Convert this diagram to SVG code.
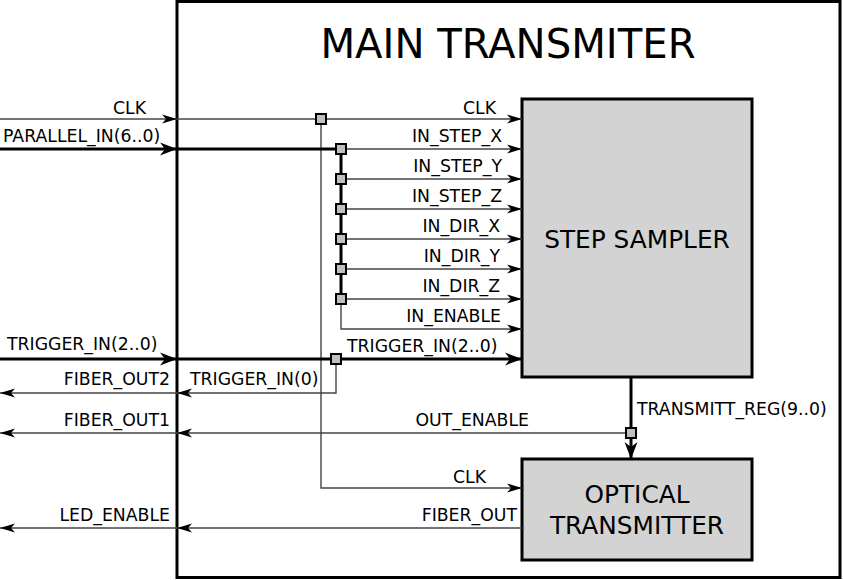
<svg xmlns="http://www.w3.org/2000/svg" width="843" height="580" viewBox="0 0 843 580">
<style>
text{font-family:"DejaVu Sans","Liberation Sans",sans-serif;fill:#000}
.lbl{font-size:17.3px}
.end{text-anchor:end}
.box{fill:#d3d3d3;stroke:#000;stroke-width:3}
.thin{fill:none;stroke:#444;stroke-width:1.4}
.thick{fill:none;stroke:#000;stroke-width:3}
.j{fill:#c0c0c0;stroke:#000;stroke-width:2}
.a{marker-end:url(#at)}
.A{marker-end:url(#aT)}
</style>
<defs>
<marker id="at" markerUnits="userSpaceOnUse" markerWidth="16" markerHeight="10" viewBox="0 0 16 10" refX="15" refY="5" orient="auto">
<path d="M0,0.5 L15,5 L0,9.5 L4,5 z" fill="#000"/>
</marker>
<marker id="aT" markerUnits="userSpaceOnUse" markerWidth="18" markerHeight="14" viewBox="0 0 18 14" refX="17" refY="7" orient="auto">
<path d="M0,0.5 L17,7 L0,13.5 L5,7 z" fill="#000"/>
</marker>
</defs>
<rect width="843" height="580" fill="#fff"/>
<g id="main-transmitter">
<rect x="177" y="1.5" width="663" height="576" fill="#fff" stroke="#000" stroke-width="3"/>
<text x="508" y="58" font-size="40.2" text-anchor="middle">MAIN TRANSMITER</text>
</g>
<g id="step-sampler">
<rect class="box" x="522" y="99" width="230" height="278"/>
<text x="637" y="248" font-size="24.8" text-anchor="middle">STEP SAMPLER</text>
</g>
<g id="optical-transmitter">
<rect class="box" x="522" y="459" width="230" height="101"/>
<text x="637" y="503" font-size="24.8" text-anchor="middle">OPTICAL</text>
<text x="637" y="534" font-size="24.8" text-anchor="middle">TRANSMITTER</text>
</g>
<g id="connectors">
<!-- CLK -->
<path class="thin a" d="M0,119 H177"/>
<path class="thin a" d="M177,119 H522"/>
<path class="thin a" d="M321,119 V488 H522"/>
<!-- PARALLEL_IN bus -->
<path class="thick A" d="M0,149 H177"/>
<path class="thick" d="M177,149 H341 V299"/>
<path class="thin a" d="M341,149 H522"/>
<path class="thin a" d="M341,179 H522"/>
<path class="thin a" d="M341,209 H522"/>
<path class="thin a" d="M341,239 H522"/>
<path class="thin a" d="M341,269 H522"/>
<path class="thin a" d="M341,299 H522"/>
<path class="thin a" d="M341,299 V329 H522"/>
<!-- TRIGGER_IN -->
<path class="thick A" d="M0,359 H177"/>
<path class="thick A" d="M177,359 H522"/>
<path class="thin a" d="M336,359 V393 H177"/>
<path class="thin a" d="M177,393 H0"/>
<!-- OUT_ENABLE / FIBER_OUT1 -->
<path class="thin a" d="M631,433 H177"/>
<path class="thin a" d="M177,433 H0"/>
<!-- TRANSMITT_REG -->
<path class="thick A" d="M631,377 V459"/>
<!-- FIBER_OUT / LED_ENABLE -->
<path class="thin a" d="M522,528 H177"/>
<path class="thin a" d="M177,528 H0"/>
<!-- junctions -->
<rect class="j" x="316" y="114" width="10" height="10"/>
<rect class="j" x="336" y="144" width="10" height="10"/>
<rect class="j" x="336" y="174" width="10" height="10"/>
<rect class="j" x="336" y="204" width="10" height="10"/>
<rect class="j" x="336" y="234" width="10" height="10"/>
<rect class="j" x="336" y="264" width="10" height="10"/>
<rect class="j" x="336" y="294" width="10" height="10"/>
<rect class="j" x="331" y="354" width="10" height="10"/>
<rect class="j" x="626" y="428" width="10" height="10"/>
</g>
<g id="labels" class="lbl">
<text class="end" x="146" y="114">CLK</text>
<text x="3" y="142">PARALLEL_IN(6..0)</text>
<text class="end" x="496" y="114">CLK</text>
<text class="end" x="502" y="142">IN_STEP_X</text>
<text class="end" x="502" y="172">IN_STEP_Y</text>
<text class="end" x="502" y="202">IN_STEP_Z</text>
<text class="end" x="500" y="232">IN_DIR_X</text>
<text class="end" x="500" y="262">IN_DIR_Y</text>
<text class="end" x="500" y="292">IN_DIR_Z</text>
<text class="end" x="501" y="322">IN_ENABLE</text>
<text x="7" y="350">TRIGGER_IN(2..0)</text>
<text x="347" y="352">TRIGGER_IN(2..0)</text>
<text class="end" x="170" y="385">FIBER_OUT2</text>
<text x="190" y="385">TRIGGER_IN(0)</text>
<text class="end" x="170" y="426">FIBER_OUT1</text>
<text class="end" x="529" y="426">OUT_ENABLE</text>
<text x="637" y="415">TRANSMITT_REG(9..0)</text>
<text class="end" x="486" y="483">CLK</text>
<text class="end" x="517" y="521">FIBER_OUT</text>
<text class="end" x="170" y="521">LED_ENABLE</text>
</g>
</svg>
